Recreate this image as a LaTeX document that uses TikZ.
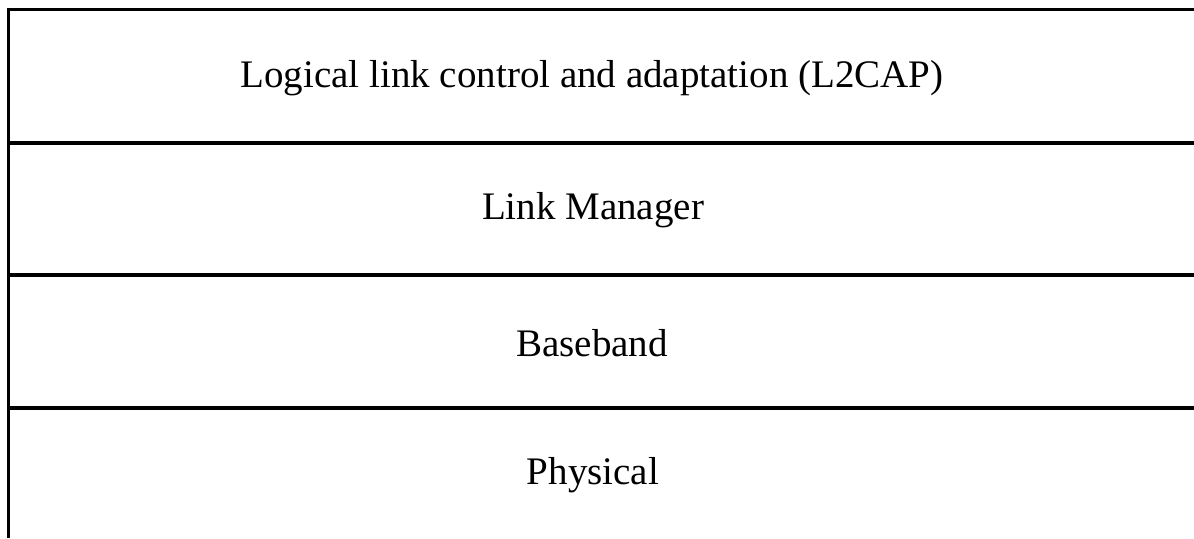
\documentclass[tikz,border=0pt]{standalone}
\usepackage{fontspec}
\setmainfont{Liberation Serif}
\usepackage{xcolor}

\begin{document}
\begin{tikzpicture}[x=0.5pt,y=-0.5pt]
  \tikzset{layer/.style={inner sep=0pt,font=\fontsize{19.5}{23}\selectfont},
           rule/.style={line width=1.6pt,black}}
  \useasboundingbox (0,0) rectangle (1194,538);
  \node[layer] (l2cap) at (592,78) {Logical link control and adaptation (L2CAP)};
  \node[layer] (lm) at (593,210) {Link Manager};
  \node[layer] (bb) at (592,343) {Baseband};
  \node[layer] (phy) at (593,475) {Physical};
  \draw[rule] (8.5,538) |- (1194,9.5);
  \foreach \y in {143,275,408}
    \draw[rule] (8.5,\y) -- (1194,\y);
\end{tikzpicture}
\end{document}
